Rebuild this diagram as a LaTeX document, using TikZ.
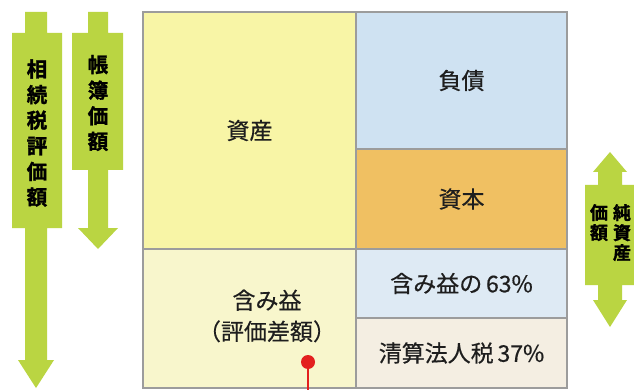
\documentclass[tikz,border=0pt]{standalone}
\usepackage{fontspec}
\newfontfamily\cjk[FakeBold=0.5]{Noto Sans CJK JP}
\newfontfamily\cjkb[FakeBold=1.5]{Noto Sans CJK JP Bold}
\definecolor{arrowgreen}{HTML}{BAD542}
\definecolor{cellyellow}{HTML}{F8F5A6}
\definecolor{cellyellowlt}{HTML}{F8F6CC}
\definecolor{cellblue}{HTML}{CFE2F2}
\definecolor{cellorange}{HTML}{F0C062}
\definecolor{cellbluelt}{HTML}{DEEAF4}
\definecolor{cellbeige}{HTML}{F4EEE2}
\definecolor{framegray}{HTML}{9C9C9C}
\definecolor{pinred}{HTML}{E3201E}
\definecolor{textdark}{HTML}{1E1E1E}
\tikzset{
  cell/.style={draw=framegray, line width=1.3pt, inner sep=0pt, text=textdark, font=\cjk\fontsize{23}{27}\selectfont},
  bigarrow/.style={fill=arrowgreen, draw=none},
  vlabel/.style={font=\cjkb\fontsize{20.5}{25.6}\selectfont, align=center, inner sep=0pt, text=black},
  rlabel/.style={font=\cjkb\fontsize{18}{20}\selectfont, align=center, inner sep=0pt, anchor=north, text=black},
  clabel/.style={font=\cjk\fontsize{23}{27}\selectfont, inner sep=0pt, text=textdark}
}
\begin{document}
\begin{tikzpicture}[x=1pt,y=-1pt]
\useasboundingbox (0,0) rectangle (634,390);
\fill[white] (0,0) rectangle (634,390);
% cells
\node[cell, fill=cellyellow, minimum width=213pt, minimum height=237pt] (shisan) at (249.5,130.5) {資産};
\node[cell, fill=cellyellowlt, minimum width=213pt, minimum height=139pt] (fukumi) at (249.5,318.5) {};
\node[cell, fill=cellblue, minimum width=211pt, minimum height=137pt] (fusai) at (461.5,80.5) {負債};
\node[cell, fill=cellorange, minimum width=211pt, minimum height=100pt] (shihon) at (461.5,199) {資本};
\node[cell, fill=cellbluelt, minimum width=211pt, minimum height=69pt] (fukumi63) at (461.5,283.5) {含み益の\,63\%};
\node[cell, fill=cellbeige, minimum width=211pt, minimum height=70pt] (zei) at (461.5,353) {清算法人税\,37\%};
\node[clabel, align=center] (fukumilabel) at (267,316) {含み益\\[4pt]（評価差額）};
% red pin
\coordinate (pinbottom) at (308,392);
\node[circle, fill=pinred, minimum size=14pt, inner sep=0pt] (pin) at (308,362) {};
\draw[pinred, line width=2.2pt] (pin.center) -- (pinbottom);
% left arrow 1
\fill[bigarrow] (25,12) -- (47,12) -- (47,33) -- (62,33) -- (62,228) -- (47,228) -- (47,360)
  -- (54,360) -- (36,388) -- (18,360) -- (25,360) -- (25,228) -- (12,228) -- (12,33) -- (25,33) -- cycle;
\node[vlabel] (souzoku) at (37,133) {相\\続\\税\\評\\価\\額};
% left arrow 2
\fill[bigarrow] (88,12) -- (108,12) -- (108,33) -- (123,33) -- (123,170) -- (108,170) -- (108,228)
  -- (118,228) -- (98,249) -- (78,228) -- (88,228) -- (88,170) -- (72,170) -- (72,33) -- (88,33) -- cycle;
\node[vlabel] (boka) at (98,103) {帳\\簿\\価\\額};
% right double arrow
\fill[bigarrow] (610,152) -- (627,172) -- (622,172) -- (622,185) -- (634,185) -- (634,285) -- (622,285)
  -- (622,300) -- (627,300) -- (610,327) -- (593,300) -- (598,300) -- (598,285) -- (585,285)
  -- (585,185) -- (598,185) -- (598,172) -- (593,172) -- cycle;
\node[rlabel] (junshisan) at (622,204) {純\\資\\産};
\node[rlabel] (kagaku) at (599,204) {価\\額};
\end{tikzpicture}
\end{document}
